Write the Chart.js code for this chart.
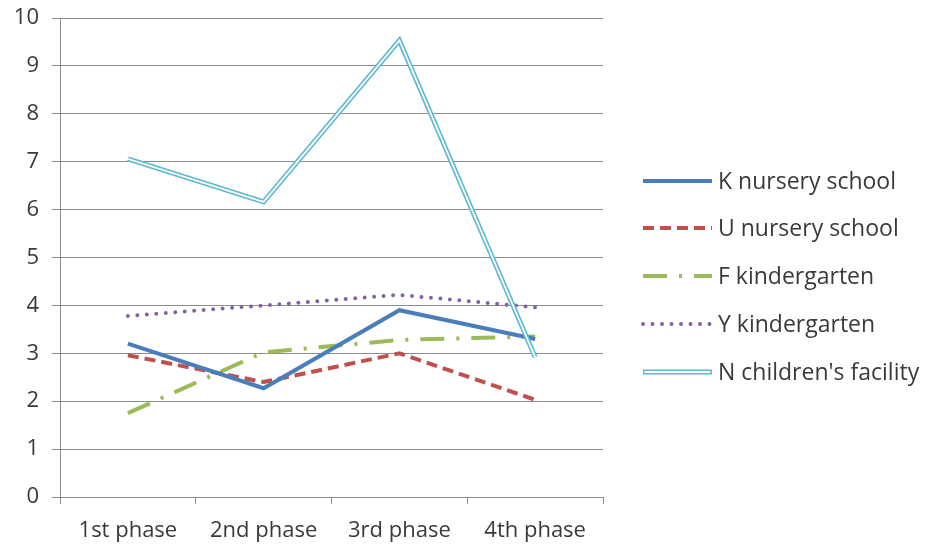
<!DOCTYPE html>
<html>
<head>
<meta charset="utf-8">
<script src="https://cdn.jsdelivr.net/npm/chart.js@4.4.1/dist/chart.umd.min.js"></script>
<style>
html,body{margin:0;padding:0;background:#fff;}
#wrap{width:927px;height:546px;}
</style>
</head>
<body>
<div id="wrap"><canvas id="c" width="927" height="546"></canvas></div>
<script>
const categories = ["1st phase", "2nd phase", "3rd phase", "4th phase"];
const seriesNames = ["K nursery school", "U nursery school", "F kindergarten", "Y kindergarten", "N children's facility"];
const kNursery = [3.2, 2.27, 3.9, 3.3];
const uNursery = [2.96, 2.4, 3.0, 2.03];
const fKinder = [1.75, 3.02, 3.28, 3.35];
const yKinder = [3.78, 4.0, 4.22, 3.96];
const nFacility = [7.06, 6.16, 9.53, 2.92];
const yTicks = [0,1,2,3,4,5,6,7,8,9,10];

const FONT = "'Open Sans', 'Liberation Sans', sans-serif";
const TEXT = '#3a3a3a';

const styles = [
  {color:'#4a7ebb', width:4, dash:[], cap:'butt'},
  {color:'#c0504d', width:4, dash:[11,6], cap:'butt'},
  {color:'#9bbb59', width:4, dash:[24,12,3,12], cap:'butt'},
  {color:'#8064a2', width:4, dash:[0,9.5], cap:'round'},
  {color:'#5bb8d0', width:5, dash:[], cap:'butt', double:true}
];
const seriesData = [kNursery, uNursery, fKinder, yKinder, nFacility];

const datasets = [];
seriesData.forEach((d,i)=>{
  const s = styles[i];
  datasets.push({
    label: seriesNames[i], data: d, borderColor: s.color, borderWidth: s.width,
    borderDash: s.dash, borderCapStyle: s.cap, borderJoinStyle:'miter',
    pointRadius:0, fill:false, tension:0, order: s.double ? 1 : 2
  });
  if (s.double) {
    datasets.push({
      label: '_inner', data: d, borderColor:'#ffffff', borderWidth:1.8,
      borderJoinStyle:'miter', pointRadius:0, fill:false, tension:0, order:0
    });
  }
});

const legendPlugin = {
  id:'customLegend',
  afterDraw(chart){
    const ctx = chart.ctx;
    const x0 = 643, x1 = 712, tx = 718;
    const rows = [181, 228, 276, 324, 372];
    ctx.save();
    ctx.font = "23px " + FONT;
    ctx.textBaseline = 'middle';
    ctx.fillStyle = TEXT;
    seriesNames.forEach((name,i)=>{
      const s = styles[i];
      const y = rows[i];
      ctx.beginPath();
      ctx.setLineDash(s.dash);
      ctx.lineCap = s.cap;
      ctx.strokeStyle = s.color;
      ctx.lineWidth = s.width;
      ctx.moveTo(x0, y); ctx.lineTo(x1, y); ctx.stroke();
      if (s.double){
        ctx.beginPath();
        ctx.setLineDash([]);
        ctx.strokeStyle = '#fff';
        ctx.lineWidth = 1.8;
        ctx.moveTo(x0+1.5, y); ctx.lineTo(x1-1.5, y); ctx.stroke();
      }
      ctx.setLineDash([]);
      ctx.fillText(name, tx, y + 1);
    });
    ctx.restore();
  }
};

new Chart(document.getElementById('c'), {
  type:'line',
  data:{labels:categories, datasets:datasets},
  options:{
    responsive:false, animation:false,
    layout:{padding:{top:18, right:324, bottom:0, left:0}},
    plugins:{legend:{display:false}, tooltip:{enabled:false}},
    scales:{
      x:{
        offset:true,
        afterFit(scale){ scale.height = 49; scale.paddingLeft = 0; scale.paddingRight = 0; },
        grid:{display:true, drawOnChartArea:false, drawTicks:true, tickLength:7, offset:true, color:'#8c8c8c', lineWidth:1},
        border:{display:true, color:'#8c8c8c', width:1},
        ticks:{color:TEXT, font:{family:FONT, size:22}, padding:14, maxRotation:0}
      },
      y:{
        min:0, max:10,
        afterBuildTicks(axis){ axis.ticks = yTicks.map(v=>({value:v})); },
        afterFit(scale){ scale.width = 60; scale.paddingTop = 0; scale.paddingBottom = 0; },
        grid:{display:true, drawTicks:true, tickLength:8, color:'#8c8c8c', lineWidth:1},
        border:{display:true, color:'#8c8c8c', width:1},
        ticks:{color:TEXT, font:{family:FONT, size:22}, padding:13}
      }
    }
  },
  plugins:[legendPlugin]
});
</script>
</body>
</html>
